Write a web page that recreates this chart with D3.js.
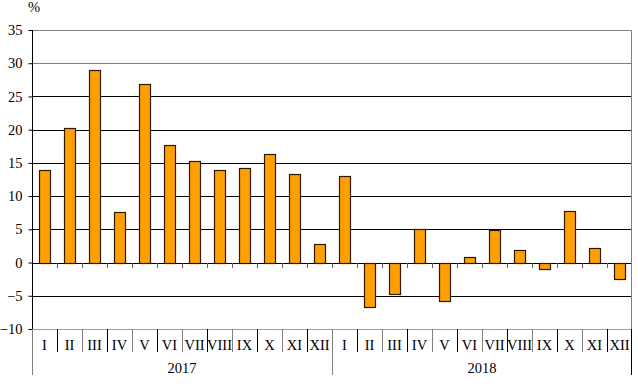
<!DOCTYPE html>
<html>
<head>
<meta charset="utf-8">
<script src="https://cdn.jsdelivr.net/npm/d3@7"></script>
<style>
  body { margin: 0; background: #fff; }
</style>
</head>
<body>
<svg width="638" height="388"></svg>
<script>
// monthly change, %
var months = ['I','II','III','IV','V','VI','VII','VIII','IX','X','XI','XII'];
var years = ['2017', '2018'];
var values2017 = [13.9, 20.3, 29.0, 7.6, 26.8, 17.7, 15.3, 14.0, 14.3, 16.3, 13.4, 2.8];
var values2018 = [13.1, -6.7, -4.8, 5.1, -5.8, 0.9, 4.9, 1.9, -1.0, 7.7, 2.2, -2.5];
var yTicks = [-10, -5, 0, 5, 10, 15, 20, 25, 30, 35];

var FONT = '"Liberation Serif", "Times New Roman", Times, serif';
var FS = '14.5px';

var margin = { top: 30, right: 6, bottom: 59, left: 32 };
var width = 638 - margin.left - margin.right,
    height = 388 - margin.top - margin.bottom;

var data = [];
years.forEach(function(yr, j) {
  var vals = j === 0 ? values2017 : values2018;
  months.forEach(function(m, i) {
    data.push({ key: yr + '-' + m, month: m, year: yr, value: vals[i] });
  });
});

var svg = d3.select('svg')
  .append('g')
    .attr('transform', 'translate(' + margin.left + ',' + margin.top + ')');

var x = d3.scaleBand().domain(data.map(function(d) { return d.key; })).range([0, width]);
var y = d3.scaleLinear().domain([-10, 35]).range([height, 0]);

// gridlines
svg.append('g')
  .selectAll('line')
  .data(yTicks.filter(function(t) { return t > -10 && t < 35; }))
  .enter().append('line')
    .attr('x1', 0).attr('x2', width)
    .attr('y1', function(d) { return Math.round(y(d)) + 0.5; })
    .attr('y2', function(d) { return Math.round(y(d)) + 0.5; })
    .attr('stroke', function(d) { return d >= 30 ? '#808080' : '#000'; });

// plot border top/right + bottom
svg.append('path')
  .attr('d', 'M0,0.5H' + (width - 0.5) + 'V' + height)
  .attr('fill', 'none').attr('stroke', '#808080');
svg.append('line')
  .attr('x1', 0).attr('x2', width)
  .attr('y1', height + 0.5).attr('y2', height + 0.5)
  .attr('stroke', '#a0a0a0');

// bars
var bw = Math.round(x.bandwidth() * 0.44);
svg.append('g')
  .selectAll('rect')
  .data(data)
  .enter().append('rect')
    .attr('x', function(d) { return Math.round(x(d.key) + (x.bandwidth() - bw) / 2) + 0.5; })
    .attr('y', function(d) { return Math.round(y(Math.max(0, d.value))) + 0.5; })
    .attr('width', bw)
    .attr('height', function(d) { return Math.abs(Math.round(y(d.value)) - Math.round(y(0))); })
    .attr('fill', '#ffa000')
    .attr('stroke', '#2b1a00')
    .attr('stroke-width', 1.2);

// zero line ticks
svg.append('g')
  .selectAll('line')
  .data(data.slice(1))
  .enter().append('line')
    .attr('x1', function(d) { return Math.round(x(d.key)) + 0.5; })
    .attr('x2', function(d) { return Math.round(x(d.key)) + 0.5; })
    .attr('y1', Math.round(y(0))).attr('y2', Math.round(y(0)) + 5)
    .attr('stroke', '#606060');

// y axis
var yAxis = svg.append('g')
  .attr('transform', 'translate(0.5,0)')
  .call(d3.axisLeft(y).tickValues(yTicks).tickSize(4).tickPadding(6));
yAxis.attr('font-family', null).attr('font-size', null);
yAxis.select('.domain').remove();
yAxis.selectAll('.tick line').attr('stroke', '#000');
yAxis.selectAll('.tick text')
  .style('font-family', FONT).style('font-size', FS).attr('fill', '#000');
svg.append('line')
  .attr('x1', 0.5).attr('x2', 0.5)
  .attr('y1', 0).attr('y2', height)
  .attr('stroke', '#000');
svg.append('line')
  .attr('x1', 0.5).attr('x2', 0.5)
  .attr('y1', height).attr('y2', height + 46)
  .attr('stroke', '#808080');

svg.append('text')
  .attr('x', -4).attr('y', -18)
  .style('font-family', FONT).style('font-size', FS)
  .text('%');

// month labels + separators
svg.append('g')
  .selectAll('line')
  .data(data.slice(1))
  .enter().append('line')
    .attr('x1', function(d) { return Math.round(x(d.key)) + 0.5; })
    .attr('x2', function(d) { return Math.round(x(d.key)) + 0.5; })
    .attr('y1', height)
    .attr('y2', function(d) { return d.month === 'I' ? height + 46 : height + 23; })
    .attr('stroke', function(d, i) { return i % 2 === 0 ? '#000' : '#808080'; });

svg.append('g')
  .selectAll('text')
  .data(data)
  .enter().append('text')
    .attr('x', function(d) { return x(d.key) + x.bandwidth() / 2; })
    .attr('y', height + 21)
    .attr('text-anchor', 'middle')
    .style('font-family', FONT).style('font-size', FS)
    .text(function(d) { return d.month; });

svg.append('line')
  .attr('x1', width - 0.5).attr('x2', width - 0.5)
  .attr('y1', height).attr('y2', height + 46)
  .attr('stroke', '#000');

// year labels
svg.append('g')
  .selectAll('text')
  .data(years)
  .enter().append('text')
    .attr('x', function(d) { return x(d + '-I') + x.bandwidth() * 6; })
    .attr('y', height + 44)
    .attr('text-anchor', 'middle')
    .style('font-family', FONT).style('font-size', FS)
    .text(function(d) { return d; });
</script>
</body>
</html>
